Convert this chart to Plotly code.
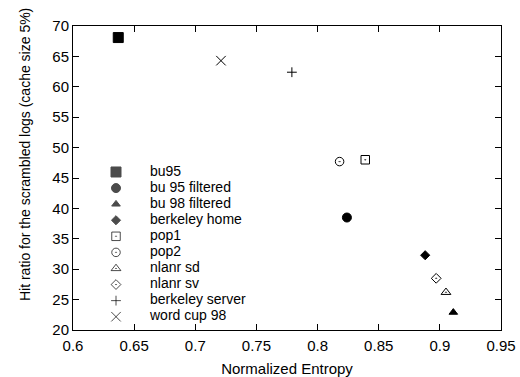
import plotly.graph_objects as go

names = ["bu95", "bu 95 filtered", "bu 98 filtered", "berkeley home", "pop1",
         "pop2", "nlanr sd", "nlanr sv", "berkeley server", "word cup 98"]
entropy = [0.637, 0.824, 0.911, 0.888, 0.839, 0.818, 0.905, 0.897, 0.779, 0.721]
hit_ratio = [68.1, 38.5, 22.9, 32.3, 48.0, 47.7, 26.2, 28.5, 62.4, 64.3]
symbols = ["square", "circle", "triangle-up", "diamond", "square-open-dot",
           "circle-open-dot", "triangle-up-open-dot", "diamond-open-dot",
           "cross-thin-open", "x-thin-open"]
sizes = [10, 9, 7.5, 7, 8.5, 8.5, 8.5, 7.5, 7, 9.5]
x_ticks = [0.6, 0.65, 0.7, 0.75, 0.8, 0.85, 0.9, 0.95]
y_ticks = [20, 25, 30, 35, 40, 45, 50, 55, 60, 65, 70]
x_title = "Normalized Entropy"
y_title = "Hit ratio for the scrambled logs (cache size 5%)"

FONT = "Liberation Sans, Arial, sans-serif"

fig = go.Figure()
for n, xv, yv, s, sz in zip(names, entropy, hit_ratio, symbols, sizes):
    fig.add_trace(go.Scatter(
        x=[xv], y=[yv], mode="markers", name=n, showlegend=False,
        marker=dict(symbol=s, size=sz, color="black",
                    line=dict(color="black", width=1)),
        xaxis="x", yaxis="y"))

# manual legend (rows indexed by series order)
rows = list(range(len(names)))
fig.add_trace(go.Scatter(
    x=[43] * len(names), y=rows, mode="markers", showlegend=False,
    marker=dict(symbol=symbols, size=sizes, color="black",
                line=dict(color="black", width=1)),
    xaxis="x2", yaxis="y2", hoverinfo="skip"))
fig.add_trace(go.Scatter(
    x=[77] * len(names), y=rows, mode="text", text=names,
    textposition="middle right", showlegend=False,
    textfont=dict(family=FONT, size=14, color="black"),
    xaxis="x2", yaxis="y2", hoverinfo="skip"))

axis_common = dict(showline=True, linecolor="black", linewidth=1, mirror="ticks",
                   ticks="inside", ticklen=6, tickcolor="black", tickwidth=1,
                   showgrid=False, zeroline=False, automargin=False,
                   tickfont=dict(family=FONT, size=15, color="black"))

fig.update_layout(
    width=520, height=377,
    margin=dict(l=73, r=19, t=26, b=47, autoexpand=False),
    plot_bgcolor="rgba(0,0,0,0)", paper_bgcolor="white",
    font=dict(family=FONT, color="black"),
    xaxis=dict(range=[0.6, 0.95], tickvals=x_ticks,
               ticktext=[f"{v:g}" for v in x_ticks], ticklabelstandoff=2,
               title=dict(text=x_title, font=dict(family=FONT, size=15),
                          standoff=11),
               **axis_common),
    yaxis=dict(range=[20, 70], tickvals=y_ticks, **axis_common),
    xaxis2=dict(domain=[0, 1], range=[0, 428], visible=False, anchor="y2",
                fixedrange=True),
    yaxis2=dict(domain=[0.0173, 0.5462], range=[9.5, -0.5], visible=False,
                anchor="x2", fixedrange=True),
    annotations=[dict(text=y_title, textangle=-90, xref="paper", yref="paper",
                      x=-0.112, y=0.5757, xanchor="center", yanchor="middle",
                      showarrow=False, font=dict(family=FONT, size=14, color="black"))],
)

fig.write_html("out.html")
